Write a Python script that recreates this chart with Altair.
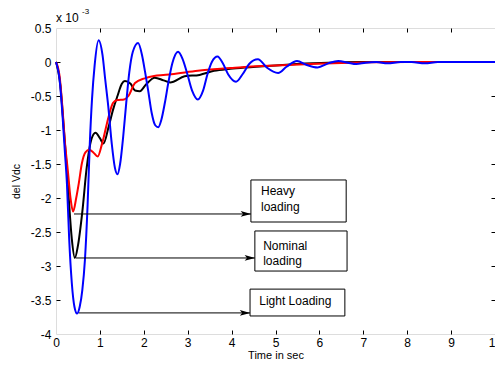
import altair as alt
import pandas as pd

# --- data (y in units of 1e-3) ---
blue_t = [0.00, 0.08, 0.15, 0.20, 0.25, 0.30, 0.36, 0.42, 0.48, 0.54, 0.60, 0.66, 0.72, 0.77, 0.82, 0.88,
          0.97, 1.06, 1.12, 1.19, 1.27, 1.34, 1.40, 1.46, 1.53, 1.60, 1.67, 1.75, 1.87, 1.96, 2.03, 2.10,
          2.18, 2.26, 2.33, 2.40, 2.48, 2.56, 2.65, 2.78, 2.88, 2.98, 3.10, 3.23, 3.35, 3.45, 3.55, 3.68,
          3.80, 3.92, 4.10, 4.25, 4.40, 4.60, 4.80, 5.06, 5.25, 5.49, 5.70, 5.96, 6.20, 6.43, 6.65, 6.84,
          7.05, 7.30, 7.55, 7.85, 8.10, 8.40, 8.70, 10.0]
blue_y = [0.00, -0.25, -0.80, -1.30, -1.80, -2.60, -3.25, -3.60, -3.70, -3.60, -3.35, -2.90, -2.10, -1.20, -0.55, -0.05,
          0.32, 0.10, -0.25, -0.65, -1.20, -1.55, -1.65, -1.50, -1.10, -0.60, -0.15, 0.15, 0.28, 0.10, -0.15, -0.42,
          -0.75, -0.93, -0.96, -0.85, -0.60, -0.30, -0.02, 0.15, 0.05, -0.15, -0.42, -0.55, -0.42, -0.18, 0.00, 0.08,
          -0.02, -0.18, -0.29, -0.18, -0.03, 0.04, -0.08, -0.16, -0.07, 0.015, -0.04, -0.08, -0.02, 0.015, -0.01, -0.03,
          -0.01, 0.00, -0.02, 0.00, 0.00, -0.02, 0.00, 0.00]

black_t = [0.00, 0.10, 0.18, 0.25, 0.30, 0.36, 0.43, 0.50, 0.60, 0.70, 0.80, 0.90, 1.00, 1.08, 1.20, 1.30,
           1.40, 1.50, 1.57, 1.70, 1.80, 1.91, 2.05, 2.25, 2.45, 2.60, 2.93, 3.27, 3.60, 3.97, 4.31, 5.00,
           5.86, 7.00, 10.0]
black_y = [0.00, -0.35, -1.00, -1.60, -2.10, -2.60, -2.88, -2.70, -2.20, -1.55, -1.15, -1.04, -1.12, -1.20, -0.95, -0.70,
           -0.50, -0.32, -0.28, -0.32, -0.42, -0.43, -0.33, -0.23, -0.27, -0.30, -0.21, -0.19, -0.13, -0.10, -0.08, -0.05,
           -0.02, 0.00, 0.00]

red_t = [0.00, 0.08, 0.15, 0.20, 0.27, 0.33, 0.39, 0.46, 0.52, 0.59, 0.67, 0.76, 0.85, 0.95, 1.05, 1.20,
         1.30, 1.40, 1.55, 1.65, 1.80, 2.02, 2.30, 2.63, 3.23, 3.97, 4.36, 5.00, 5.80, 6.50, 7.20, 8.00, 10.0]
red_y = [0.00, -0.20, -0.70, -1.15, -1.60, -2.00, -2.20, -2.00, -1.78, -1.49, -1.33, -1.29, -1.33, -1.39, -1.20, -0.80,
         -0.60, -0.56, -0.55, -0.50, -0.31, -0.24, -0.20, -0.18, -0.13, -0.09, -0.07, -0.05, -0.03, -0.015, -0.005, 0.00, 0.00]

# annotations (data units)
box_labels = ["Heavy", "Nominal", "Light"]
box_x1 = [4.44, 4.53, 4.42]
box_x2 = [6.61, 6.63, 6.58]
box_y1 = [-1.735, -2.485, -3.34]
box_y2 = [-2.353, -3.074, -3.735]

arrow_x1 = [0.41, 0.45, 0.52]
arrow_x2 = [4.44, 4.53, 4.42]
arrow_y = [-2.235, -2.882, -3.69]

text_lines = ["Heavy", "loading", "Nominal", "loading", "Light Loading"]
text_x = [4.67, 4.67, 4.72, 4.72, 4.63]
text_y = [-1.90, -2.13, -2.70, -2.92, -3.52]

x_ticks = [0, 1, 2, 3, 4, 5, 6, 7, 8, 9, 10]
y_ticks = [0.5, 0, -0.5, -1, -1.5, -2, -2.5, -3, -3.5, -4]
inner_x_ticks = [1, 2, 3, 4, 5, 6, 7, 8, 9]
inner_y_ticks = [0, -0.5, -1, -1.5, -2, -2.5, -3, -3.5]

FONT = "Liberation Sans"

xs = alt.Scale(domain=[0, 10], nice=False, zero=False)
ys = alt.Scale(domain=[-4, 0.5], nice=False, zero=False)

df_b = pd.DataFrame({"t": blue_t, "v": blue_y})
df_k = pd.DataFrame({"t": black_t, "v": black_y})
df_r = pd.DataFrame({"t": red_t, "v": red_y})

main_x = alt.Axis(values=x_ticks, ticks=False, domain=False, grid=False, title="Time in sec",
                  labelFontSize=12, titleFontSize=11, titleFontWeight="normal", labelPadding=3,
                  titlePadding=1, labelFlush=False)
main_y = alt.Axis(values=y_ticks, ticks=False, domain=False, grid=False, title="del Vdc",
                  labelFontSize=12, titleFontSize=10.5, titleFontWeight="normal", labelPadding=5,
                  titlePadding=9, labelExpr="'' + datum.value")


def tick_axis(orient):
    vals = inner_x_ticks if orient in ("top", "bottom") else inner_y_ticks
    return alt.Axis(orient=orient, values=vals, labels=False, domain=False, grid=False, title=None,
                    ticks=True, tickSize=4, offset=-4, tickColor="black")


black = alt.Chart(df_k).mark_line(color="black", strokeWidth=2, interpolate="monotone").encode(
    x=alt.X("t:Q", scale=xs, axis=main_x),
    y=alt.Y("v:Q", scale=ys, axis=main_y),
)

red = alt.Chart(df_r).mark_line(color="#ff0000", strokeWidth=2, interpolate="monotone").encode(
    x=alt.X("t:Q", scale=xs, axis=tick_axis("top")),
    y=alt.Y("v:Q", scale=ys, axis=tick_axis("right")),
)

blue = alt.Chart(df_b).mark_line(color="#0000ff", strokeWidth=2, interpolate="monotone").encode(
    x=alt.X("t:Q", scale=xs, axis=tick_axis("bottom")),
    y=alt.Y("v:Q", scale=ys, axis=tick_axis("left")),
)

df_box = pd.DataFrame({"k": box_labels, "x1": box_x1, "x2": box_x2, "y1": box_y1, "y2": box_y2})
boxes = alt.Chart(df_box).mark_rect(fill="white", stroke="black", strokeWidth=1).encode(
    x=alt.X("x1:Q", scale=xs, axis=None), x2="x2:Q",
    y=alt.Y("y1:Q", scale=ys, axis=None), y2="y2:Q",
)

df_arr = pd.DataFrame({"x1": arrow_x1, "x2": arrow_x2, "y": arrow_y})
arrows = alt.Chart(df_arr).mark_rule(color="black", strokeWidth=1).encode(
    x=alt.X("x1:Q", scale=xs, axis=None), x2="x2:Q",
    y=alt.Y("y:Q", scale=ys, axis=None),
)
heads = alt.Chart(df_arr).mark_point(
    shape="M-1,-0.55L1,0L-1,0.55L-0.55,0Z", filled=True, color="black", size=110, opacity=1,
    xOffset=-5).encode(
    x=alt.X("x2:Q", scale=xs, axis=None),
    y=alt.Y("y:Q", scale=ys, axis=None),
)

df_txt = pd.DataFrame({"s": text_lines, "x": text_x, "y": text_y})
texts = alt.Chart(df_txt).mark_text(align="left", baseline="middle", font=FONT, fontSize=12,
                                     color="black").encode(
    x=alt.X("x:Q", scale=xs, axis=None),
    y=alt.Y("y:Q", scale=ys, axis=None),
    text="s:N",
)

df_exp = pd.DataFrame({"x": [0], "y": [0.5]})
exp_main = alt.Chart(df_exp).mark_text(align="left", baseline="alphabetic", font=FONT, fontSize=12,
                                        color="black", dx=0, dy=-6).encode(
    x=alt.X("x:Q", scale=xs, axis=None), y=alt.Y("y:Q", scale=ys, axis=None),
    text=alt.value("x 10"))
exp_sup = alt.Chart(df_exp).mark_text(align="left", baseline="alphabetic", font=FONT, fontSize=8,
                                       color="black", dx=26, dy=-14).encode(
    x=alt.X("x:Q", scale=xs, axis=None), y=alt.Y("y:Q", scale=ys, axis=None),
    text=alt.value("-3"))

chart = alt.layer(black, red, blue, arrows, heads, boxes, texts, exp_main, exp_sup).resolve_axis(
    x="independent", y="independent"
).properties(
    width=439, height=306,
    autosize=alt.AutoSizeParams(type="none"),
    padding={"left": 48, "top": 20, "right": 0, "bottom": 25},
).configure_view(stroke="black", strokeWidth=1).configure_axis(
    labelFont=FONT, titleFont=FONT, labelColor="black", titleColor="black"
).configure(background="white")

chart.save("out.html", embed_options={"renderer": "svg", "actions": False})
